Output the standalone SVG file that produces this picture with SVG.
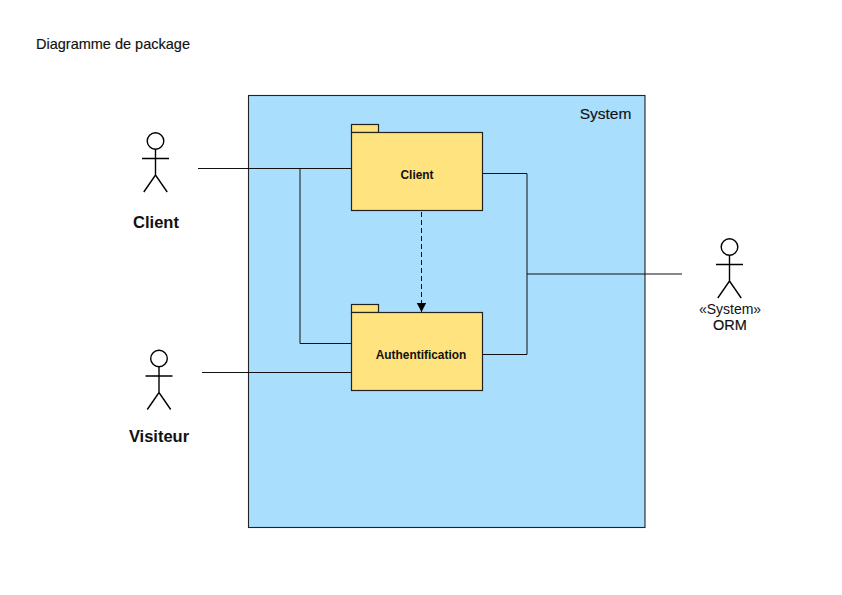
<svg xmlns="http://www.w3.org/2000/svg" width="842" height="595" viewBox="0 0 842 595">
<defs>
<marker id="arrow" markerUnits="userSpaceOnUse" markerWidth="11" markerHeight="11" refX="9" refY="5" orient="auto"><path d="M0,0.300 L9,5 L0,9.700 Z" fill="#000"/></marker>
<g id="actor" class="fig"><circle cx="0" cy="-18" r="8.300"/><path d="M0,-9.700 V16 M-13.500,-0.500 H13.500 M-11.700,33 L0,16 L11.700,33"/></g>
</defs>
<style>
text{font-family:"Liberation Sans",Arial,sans-serif;fill:#111}
.fig,.fig *{fill:none;stroke:#000;stroke-width:1.400}
.pk{fill:#ffe37e;stroke:#222;stroke-width:1.200}
.c{fill:none;stroke:#111;stroke-width:1}
.s{font-size:11.900px;text-anchor:middle;font-weight:bold}
.a{font-size:16.500px;text-anchor:middle;font-weight:bold}
</style>
<rect width="842" height="595" fill="#fff"/>
<text x="36" y="49" font-size="14.500" stroke="#111" stroke-width=".15">Diagramme de package</text>
<g id="system"><rect x="248.500" y="95.500" width="396.500" height="432" fill="#a9defc" stroke="#222" stroke-width="1.100"/><text x="605.500" y="119" font-size="15.500" text-anchor="middle" stroke="#111" stroke-width=".15">System</text></g>
<g id="connectors">
<path class="c" d="M198,168.500 H351.500 M300,168.500 V343.500 H351.500 M202,372.500 H351.500 M482.500,173.500 H527 V354.500 H482.500 M527,274 H682"/>
<path class="c" d="M421.500,212 V312" stroke-dasharray="5 3" marker-end="url(#arrow)"/>
</g>
<g id="pkg-client"><rect class="pk" x="351.500" y="124.500" width="27" height="8"/><rect class="pk" x="351.500" y="132.500" width="131" height="78"/><text class="s" x="417" y="178.500">Client</text></g>
<g id="pkg-auth"><rect class="pk" x="351.500" y="304.500" width="27" height="8"/><rect class="pk" x="351.500" y="312.500" width="131" height="78"/><text class="s" x="421" y="359">Authentification</text></g>
<g id="actor-client"><use href="#actor" x="155.500" y="159"/><text class="a" x="156" y="227.500">Client</text></g>
<g id="actor-visiteur"><use href="#actor" x="159" y="376.500"/><text class="a" x="159" y="441.500">Visiteur</text></g>
<g id="actor-orm"><use href="#actor" x="729.500" y="265"/><text x="730" y="314" font-size="14" text-anchor="middle">«System»</text><text x="730" y="330" font-size="14.500" text-anchor="middle" stroke="#111" stroke-width=".2">ORM</text></g>
</svg>
